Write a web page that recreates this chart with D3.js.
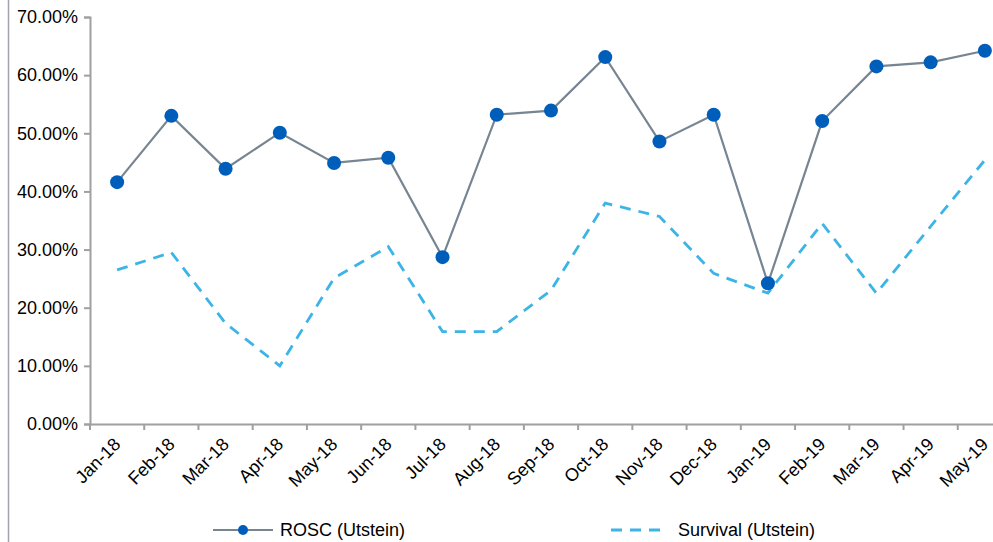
<!DOCTYPE html>
<html><head><meta charset="utf-8">
<script src="https://cdn.jsdelivr.net/npm/d3@7"></script>
<style>body{margin:0;background:#fff}svg{display:block;font-family:"Liberation Sans",Arial,sans-serif}</style>
</head><body><svg id="c" width="993" height="542"></svg>
<script>
const categories = ["Jan-18","Feb-18","Mar-18","Apr-18","May-18","Jun-18","Jul-18","Aug-18","Sep-18","Oct-18","Nov-18","Dec-18","Jan-19","Feb-19","Mar-19","Apr-19","May-19"];
const rosc = [41.6,53.0,43.9,50.1,44.9,45.8,28.7,53.2,53.9,63.1,48.6,53.2,24.2,52.1,61.5,62.2,64.2];
const survival = [26.5,29.5,17.3,10.0,25.1,30.5,15.9,15.9,23.0,38.0,35.7,25.9,22.5,34.5,22.5,34.0,45.4];
const yTicks = [0,10,20,30,40,50,60,70];
const seriesNames = ["ROSC (Utstein)","Survival (Utstein)"];

const svg = d3.select("#c");
const mLeft = 90, mRight = 1012, mTop = 17, mBottom = 424;
const x = d3.scaleBand().domain(categories).range([mLeft, mRight]);
const y = d3.scaleLinear().domain([0,70]).range([mBottom, mTop]);
const axisColor = "#a0a0a0";
const fs = 18;

svg.append("line").attr("x1",8.5).attr("x2",8.5).attr("y1",0).attr("y2",542).attr("stroke","#a0a4a8").attr("stroke-width",1.5);

const ya = svg.append("g").attr("transform",`translate(${mLeft},0)`)
  .call(d3.axisLeft(y).tickValues(yTicks).tickSize(6).tickPadding(6).tickFormat(d=>d.toFixed(2)+"%"));
ya.select(".domain").attr("stroke",axisColor).attr("stroke-width",2);
ya.selectAll(".tick line").attr("stroke",axisColor).attr("stroke-width",2);
ya.selectAll("text").attr("font-size",fs).attr("fill","#000").attr("font-family","Liberation Sans, Arial, sans-serif");

const xa = svg.append("g").attr("transform",`translate(0,${mBottom})`)
  .call(d3.axisBottom(x).tickSize(0).tickPadding(0));
xa.select(".domain").attr("stroke",axisColor).attr("stroke-width",2);
xa.selectAll(".tick line").remove();
const bounds = categories.map(c=>x(c)).concat([x(categories[categories.length-1])+x.bandwidth()]);
xa.selectAll("line.bt").data(bounds).enter().append("line").attr("class","bt")
  .attr("x1",d=>d).attr("x2",d=>d).attr("y1",0).attr("y2",6).attr("stroke",axisColor).attr("stroke-width",2);
xa.selectAll(".tick text")
  .attr("font-size",fs).attr("fill","#000").attr("font-family","Liberation Sans, Arial, sans-serif")
  .attr("text-anchor","end").attr("dy","0.35em")
  .attr("transform","translate(0,17) rotate(-45)");

const cx = d => x(d) + x.bandwidth()/2;

svg.append("path").datum(survival)
  .attr("d", d3.line().x((d,i)=>cx(categories[i])).y(d=>y(d)))
  .attr("fill","none").attr("stroke","#3cb4e6").attr("stroke-width",2.8).attr("stroke-dasharray","11,8");

svg.append("path").datum(rosc)
  .attr("d", d3.line().x((d,i)=>cx(categories[i])).y(d=>y(d)))
  .attr("fill","none").attr("stroke","#778593").attr("stroke-width",2.2);
svg.selectAll("circle.r").data(rosc).enter().append("circle").attr("class","r")
  .attr("cx",(d,i)=>cx(categories[i])).attr("cy",d=>y(d)).attr("r",7).attr("fill","#005ebb");

const ly = 530;
const lg = svg.append("g");
lg.append("line").attr("x1",213).attr("x2",273).attr("y1",ly).attr("y2",ly).attr("stroke","#778593").attr("stroke-width",2.2);
lg.append("circle").attr("cx",243).attr("cy",ly).attr("r",5).attr("fill","#005ebb");
lg.append("text").attr("x",280).attr("y",ly).attr("dy","0.35em").attr("font-size",fs).text(seriesNames[0]);
lg.append("line").attr("x1",611).attr("x2",668).attr("y1",ly).attr("y2",ly).attr("stroke","#3cb4e6").attr("stroke-width",2.8).attr("stroke-dasharray","11,8");
lg.append("text").attr("x",678).attr("y",ly).attr("dy","0.35em").attr("font-size",fs).text(seriesNames[1]);
</script></body></html>
